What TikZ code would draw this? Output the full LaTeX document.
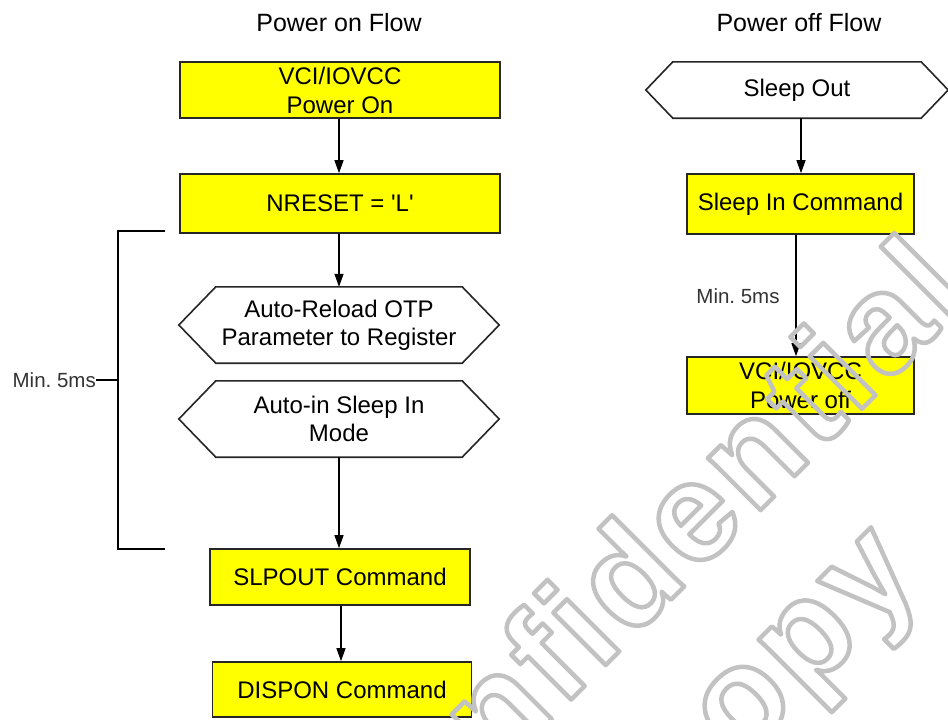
\documentclass[tikz,border=0pt]{standalone}
\usepackage{fontspec}
\setmainfont{Liberation Sans}
\newfontfamily\qfont[Ligatures=ResetAll]{Liberation Sans}
\newfontfamily\wmfont[LetterSpace=4]{Liberation Sans}
\usetikzlibrary{arrows.meta}
\definecolor{boxyellow}{RGB}{255,255,0}
\tikzset{
  ybox/.style={draw=black!85, line width=1.6pt, fill=boxyellow, inner sep=0pt, align=center,
               font=\fontsize{24}{29}\selectfont},
  hexbox/.style={inner sep=0pt, align=center, font=\fontsize{24}{28}\selectfont},
  hexline/.style={draw=black!85, line width=1.6pt, line join=miter, fill=white},
  titletext/.style={inner sep=0pt, font=\fontsize{25}{30}\selectfont},
  labeltext/.style={inner sep=0pt, text=black!80, font=\fontsize{20.5}{24}\selectfont},
  arr/.style={draw=black, line width=1.3pt, -{Triangle[length=13pt,width=9pt]}},
  bracket/.style={draw=black, line width=1.3pt},
  wmark/.style={inner sep=0pt, rotate=45, font=\wmfont\bfseries\fontsize{140}{160}\selectfont}
}
\newcommand\hexdraw[2]{%
  \draw[hexline] (#1.west) -- ([xshift=#2]#1.north west) -- ([xshift=-#2]#1.north east)
     -- (#1.east) -- ([xshift=-#2]#1.south east) -- ([xshift=#2]#1.south west) -- cycle;}
\newcommand\wmtext[1]{\special{pdf:literal direct 1 Tr 1 j 4.5 w 0.76 G}#1\special{pdf:literal direct 0 Tr}}
\begin{document}
\begin{tikzpicture}[x=1pt,y=-1pt]
\frenchspacing
\useasboundingbox (0,0) rectangle (948,720);
\clip (0,0) rectangle (948,720);

% titles
\node[titletext] (t1) at (339,23) {Power on Flow};
\node[titletext] (t2) at (799,23) {Power off Flow};

% power on flow
\node[ybox, minimum width=320pt, minimum height=56pt] (b1) at (340,90) {VCI/IOVCC\\Power On};
\node[ybox, minimum width=320pt, minimum height=59pt] (b2) at (340,203.5) {\qfont NRESET = 'L'};
\node[hexbox, minimum width=320pt, minimum height=76pt] (h1) at (339,325) {};
\hexdraw{h1}{37pt}
\node[hexbox] (h1t) at (h1.center) {Auto-Reload OTP\\Parameter to Register};
\node[hexbox, minimum width=320pt, minimum height=76pt] (h2) at (339,419) {};
\hexdraw{h2}{37pt}
\node[hexbox] (h2t) at (h2.center) {Auto-in Sleep In\\Mode};
\node[ybox, minimum width=260pt, minimum height=56pt] (b3) at (340,577) {SLPOUT Command};
\node[ybox, minimum width=259pt, minimum height=55pt] (b4) at (342,689.5) {DISPON Command};

\draw[arr] (b1.south -| 339,0) -- (b2.north -| 339,0);
\draw[arr] (b2.south -| 339,0) -- (h1.north -| 339,0);
\draw[arr] (h2.south -| 339,0) -- (b3.north -| 339,0);
\draw[arr] (b3.south -| 341,0) -- (b4.north -| 341,0);

% bracket
\coordinate (brT) at (165,231);
\coordinate (brB) at (165,549);
\coordinate (brM) at (118,380);
\node[labeltext, anchor=east] (lab1) at (96,380) {Min. 5ms};
\draw[bracket] (brT) -- (118,231) -- (118,549) -- (brB);
\draw[bracket] (lab1.east) -- (brM);

% power off flow
\node[hexbox, minimum width=302pt, minimum height=56pt] (h3) at (797,90) {};
\hexdraw{h3}{27pt}
\node[hexbox] (h3t) at (h3.center) {Sleep Out};
\node[ybox, minimum width=227pt, minimum height=60pt] (b5) at (800.5,204) {Sleep In Command};
\node[ybox, minimum width=227pt, minimum height=57pt] (b6) at (800.5,385.5) {VCI/IOVCC\\Power off};
\node[labeltext] (lab2) at (738,296) {Min. 5ms};

\draw[arr] (h3.south -| 801,0) -- (b5.north -| 801,0);
\draw[arr] (b5.south -| 796,0) -- (b6.north -| 796,0);

% watermark
\node[wmark] (wm1) at (630,570) {\wmtext{Confidential}};
\node[wmark] (wm2) at (786,684) {\wmtext{copy}};
\end{tikzpicture}
\end{document}
